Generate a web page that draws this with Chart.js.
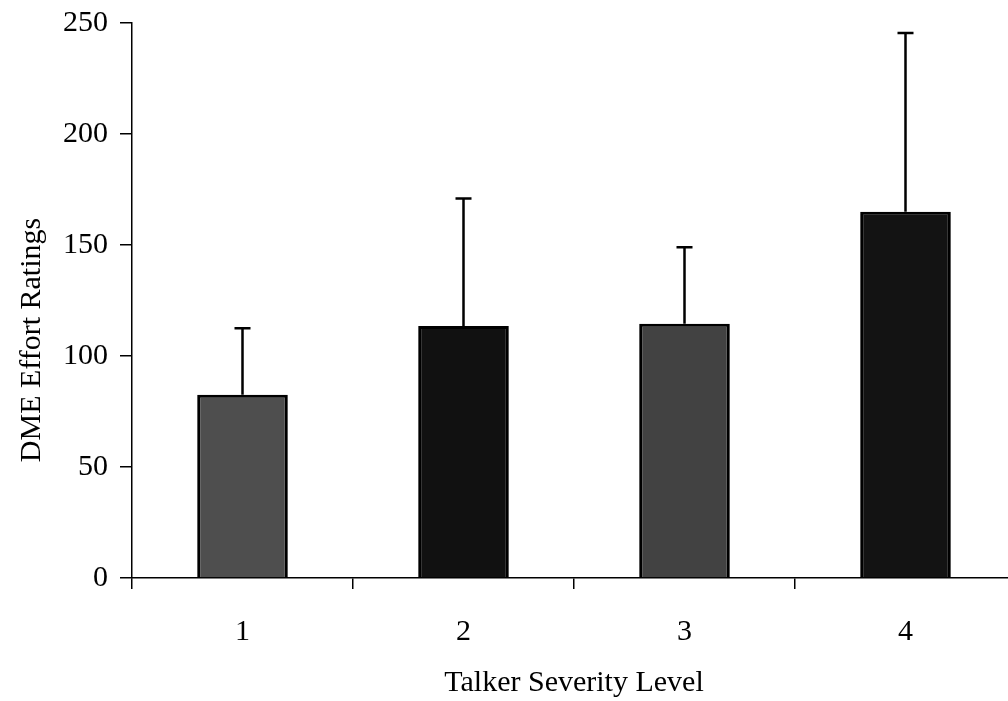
<!DOCTYPE html>
<html>
<head>
<meta charset="utf-8">
<script src="https://cdn.jsdelivr.net/npm/chart.js@4/dist/chart.umd.min.js"></script>
<style>
  html, body { margin: 0; padding: 0; background: #fff; overflow: hidden; }
</style>
</head>
<body>
<canvas id="effortChart" width="1016" height="701"></canvas>
<script>
// data
const severityLevels = ['1', '2', '3', '4'];
const meanEffort = [82.5, 113.5, 114.5, 165];
const errorTop = [112.5, 171, 149, 245.5];
const yTicks = [0, 50, 100, 150, 200, 250];

const barColors = ['#4e4e4e', '#111111', '#424242', '#131313'];

const serif = '"Liberation Serif", "Times New Roman", serif';

// upper-only error bars drawn from the y scale
const errorBarPlugin = {
    id: 'errorBars',
    afterDatasetsDraw(chart) {
        const ctx = chart.ctx;
        const yScale = chart.scales.y;
        const meta = chart.getDatasetMeta(0);
        ctx.save();
        ctx.strokeStyle = '#000';
        ctx.lineWidth = 2.5;
        meta.data.forEach((bar, i) => {
            const x = bar.x;
            const yBase = yScale.getPixelForValue(meanEffort[i]);
            const yTop = yScale.getPixelForValue(errorTop[i]);
            ctx.beginPath();
            ctx.moveTo(x, yBase);
            ctx.lineTo(x, yTop);
            ctx.moveTo(x - 8, yTop);
            ctx.lineTo(x + 8, yTop);
            ctx.stroke();
        });
        ctx.restore();
    }
};

// y title sits a little below the middle of the axis in the original
const yTitlePlugin = {
    id: 'yTitle',
    afterDraw(chart) {
        const ctx = chart.ctx;
        ctx.save();
        ctx.translate(32, 340);
        ctx.rotate(-Math.PI / 2);
        ctx.fillStyle = '#000';
        ctx.font = '30px ' + serif;
        ctx.textAlign = 'center';
        ctx.textBaseline = 'middle';
        ctx.fillText('DME Effort Ratings', 0, 0);
        ctx.restore();
    }
};

new Chart(document.getElementById('effortChart'), {
    type: 'bar',
    data: {
        labels: severityLevels,
        datasets: [{
            data: meanEffort,
            backgroundColor: barColors,
            borderColor: '#000',
            borderWidth: 3,
            categoryPercentage: 1,
            barPercentage: 0.41
        }]
    },
    options: {
        responsive: false,
        animation: false,
        devicePixelRatio: 1,
        layout: { padding: { top: 23, right: 0, left: 0, bottom: 0 } },
        plugins: {
            legend: { display: false },
            tooltip: { enabled: false }
        },
        scales: {
            x: {
                offset: true,
                grid: {
                    offset: true,
                    drawOnChartArea: false,
                    drawTicks: true,
                    tickLength: 11,
                    color: '#000',
                    lineWidth: 1.5
                },
                border: { color: '#000', width: 1.5 },
                ticks: {
                    color: '#000',
                    padding: 25,
                    font: { family: serif, size: 30 }
                },
                title: {
                    display: true,
                    text: 'Talker Severity Level',
                    color: '#000',
                    padding: { top: 0, bottom: 0 },
                    font: { family: serif, size: 30 }
                },
                afterFit(scale) { scale.height = 123; }
            },
            y: {
                min: 0,
                max: 250,
                afterBuildTicks(scale) {
                    scale.ticks = yTicks.map(v => ({ value: v }));
                },
                grid: {
                    drawOnChartArea: false,
                    drawTicks: true,
                    tickLength: 12,
                    color: '#000',
                    lineWidth: 1.5
                },
                border: { color: '#000', width: 1.5 },
                ticks: {
                    color: '#000',
                    padding: 12,
                    font: { family: serif, size: 30 }
                },
                afterFit(scale) {
                    scale.width = 132;
                    scale.paddingTop = 0;
                    scale.paddingBottom = 0;
                }
            }
        }
    },
    plugins: [errorBarPlugin, yTitlePlugin]
});
</script>
</body>
</html>
